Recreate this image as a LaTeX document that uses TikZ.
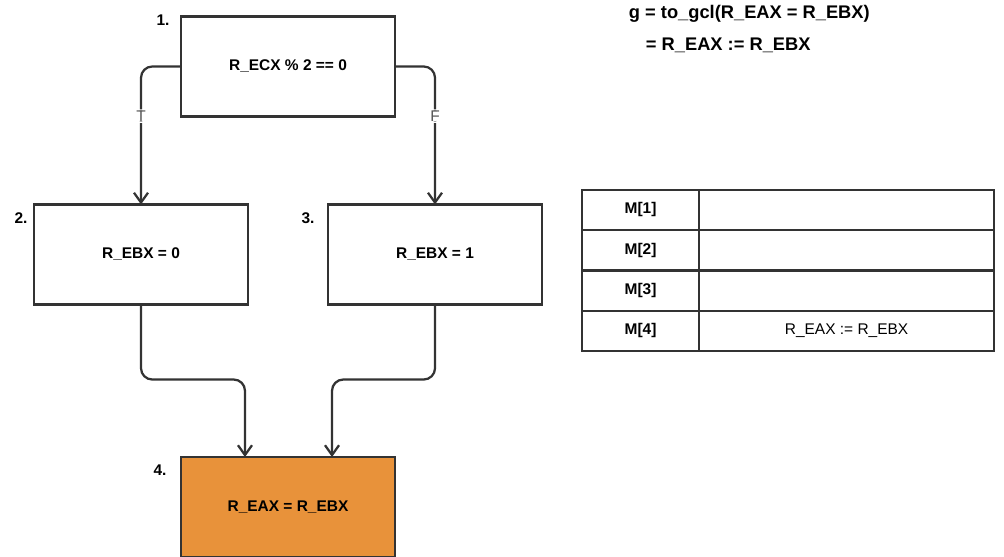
\documentclass[tikz,border=0pt]{standalone}
\usepackage{fontspec}
\setmainfont{Liberation Sans}
\usepackage{xcolor}
\usetikzlibrary{arrows.meta}
\definecolor{linegray}{HTML}{333333}
\definecolor{tfgray}{HTML}{555555}
\definecolor{boxorange}{HTML}{E8923A}

\begin{document}
\begin{tikzpicture}[x=0.025cm,y=-0.025cm,
  blk/.style={draw=linegray,line width=1.6pt,minimum width=5.35cm,minimum height=2.5cm,outer sep=0pt,font=\fontsize{11}{13}\selectfont\bfseries},
  num/.style={font=\fontsize{11}{13}\selectfont\bfseries},
  arr/.style={-{Straight Barb[length=7pt,width=10pt]},draw=linegray,line width=1.6pt,rounded corners=8pt},
  tf/.style={fill=white,inner sep=1pt,text=tfgray,font=\fontsize{11}{13}\selectfont},
  cell/.style={draw=linegray,line width=1.6pt,outer sep=0pt,minimum height=1.006cm,font=\fontsize{11}{13}\selectfont}]
\useasboundingbox (0,0) rectangle (1004,557);
% blocks of the program
\node[blk] (c1) at (288,66.5) {R\_ECX \% 2 == 0};
\node[blk] (c2) at (141,254.5) {R\_EBX = 0};
\node[blk] (c3) at (435,254.5) {R\_EBX = 1};
\node[blk,fill=boxorange] (c4) at (288,507) {R\_EAX = R\_EBX};
\node[num] (n1) at (163,20) {1.};
\node[num] (n2) at (21,218) {2.};
\node[num] (n3) at (308,218) {3.};
\node[num] (n4) at (160,470) {4.};
% branches
\draw[arr](c1.west)-|node[tf,pos=0.68]{T}(c2.north);
\draw[arr](c1.east)-|node[tf,pos=0.68]{F}(c3.north);
\draw[arr](c2.south)--++(0,75)-|([xshift=-1.075cm]c4.north);
\draw[arr](c3.south)--++(0,75)-|([xshift=1.1cm]c4.north);
% guarded command
\node[anchor=west,font=\fontsize{13}{15}\selectfont\bfseries] (g) at (624,14) {g = to\_gcl(R\_EAX = R\_EBX)};
\node[anchor=west,font=\fontsize{13}{15}\selectfont\bfseries] (geq) at (641,45) {= R\_EAX := R\_EBX};
% memory table
\foreach \i in {1,...,4}{
  \node[cell,minimum width=2.925cm,font=\fontsize{11}{13}\selectfont\bfseries] (m\i) at (640.5,169.75+40.25*\i) {M[\i]};
  \node[cell,minimum width=7.375cm,anchor=west] (v\i) at (m\i.east) {};
}
\node[font=\fontsize{11}{13}\selectfont] (v4txt) at (v4) {R\_EAX := R\_EBX};
\end{tikzpicture}
\end{document}
